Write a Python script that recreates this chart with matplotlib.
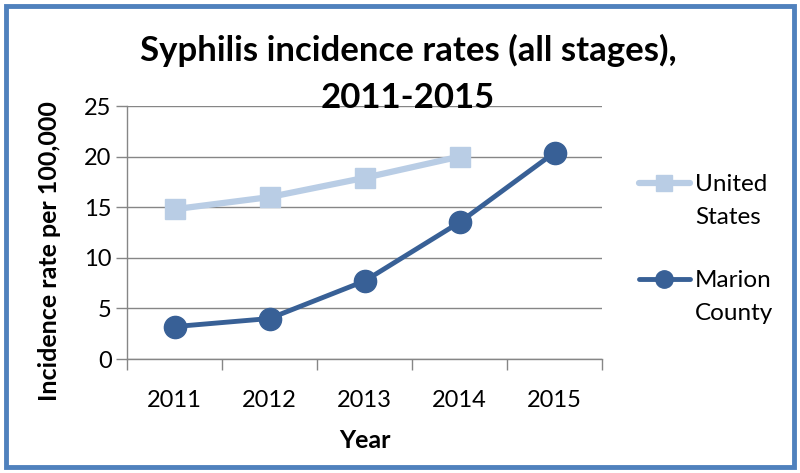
import matplotlib
matplotlib.use("Agg")
import matplotlib.pyplot as plt
from matplotlib.patches import Rectangle
from matplotlib.lines import Line2D

years = ["2011", "2012", "2013", "2014", "2015"]
us_rates = [14.8, 16.0, 17.9, 20.0]
marion_rates = [3.2, 4.0, 7.7, 13.5, 20.4]
y_ticks = [0, 5, 10, 15, 20, 25]

US_COLOR = "#B9CDE5"
MC_COLOR = "#386096"

plt.rcParams['font.family'] = ['Lato', 'DejaVu Sans']

W, H = 800, 473
fig = plt.figure(figsize=(W / 100, H / 100), dpi=100)

# plot area in pixels: x 127..602, y 106..359
ax = fig.add_axes([127 / W, 1 - 359 / H, (602 - 127) / W, (359 - 106) / H])

x_us = list(range(len(us_rates)))
x_mc = list(range(len(marion_rates)))

ax.plot(x_us, us_rates, color=US_COLOR, lw=4.5, marker="s", ms=15,
        solid_capstyle="round", zorder=3, clip_on=False)
ax.plot(x_mc, marion_rates, color=MC_COLOR, lw=3.5, marker="o", ms=16,
        solid_capstyle="round", zorder=4, clip_on=False)

ax.set_xlim(-0.5, len(years) - 0.5)
ax.set_ylim(0, 25)
ax.set_yticks(y_ticks)
ax.set_xticks(range(len(years)))
ax.set_xticklabels(years)
ax.set_xticks([i - 0.5 for i in range(len(years) + 1)], minor=True)
ax.tick_params(axis="x", which="major", length=0, pad=22, labelsize=17)
ax.tick_params(axis="x", which="minor", length=8, width=1, color="#868686")
ax.tick_params(axis="y", length=8, width=1, color="#868686", labelsize=17, pad=3)

ax.grid(axis="y", color="#868686", lw=1)
ax.set_axisbelow(True)
for s in ["top", "right"]:
    ax.spines[s].set_visible(False)
for s in ["left", "bottom"]:
    ax.spines[s].set_color("#868686")
    ax.spines[s].set_linewidth(1)

fig.text(365 / W, 1 - 440 / H, "Year", ha="center", va="center",
         fontsize=18, fontweight="bold")
fig.text(50 / W, 1 - 251 / H, "Incidence rate per 100,000", ha="center", va="center",
         rotation=90, fontsize=18, fontweight="bold")

fig.text(408 / W, 1 - 74 / H, "Syphilis incidence rates (all stages),\n2011-2015",
         ha="center", va="center", fontsize=25, fontweight="bold", linespacing=1.6)

# legend, drawn by hand so the handle sits on the first text line
legend_items = [("United\nStates", US_COLOR, "s", 4.5, 12, 183),
                ("Marion\nCounty", MC_COLOR, "o", 3.5, 12.5, 279)]
for label, color, mk, lw, ms, ypx in legend_items:
    yf = 1 - ypx / H
    fig.add_artist(Line2D([639 / W, 690 / W], [yf, yf], transform=fig.transFigure,
                          color=color, lw=lw, solid_capstyle="round"))
    fig.add_artist(Line2D([664 / W], [yf], transform=fig.transFigure,
                          color=color, marker=mk, ms=ms, lw=0))
    fig.text(695 / W, yf + 9 / H, label, ha="left", va="top", fontsize=17.5,
             linespacing=1.68)

fig.patches.append(Rectangle((6 / W, 6 / H), (W - 12) / W, (H - 12) / H,
                             transform=fig.transFigure, fill=False,
                             edgecolor="#4F81BD", lw=3.5))

fig.savefig("out.png", dpi=100)
